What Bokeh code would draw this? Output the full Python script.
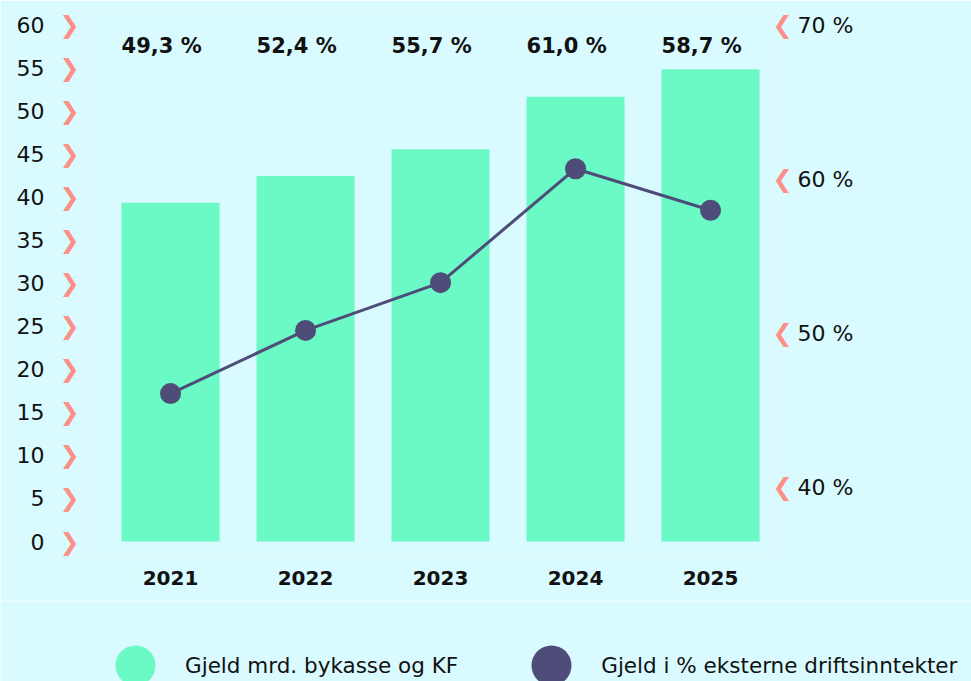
from bokeh.plotting import figure
from bokeh.layouts import column
from bokeh.models import Range1d, LinearAxis, FixedTicker, Legend, LegendItem
from bokeh.core.properties import value
from bokeh.embed import file_html
from bokeh.resources import INLINE

# ---- data ----
years = ["2021", "2022", "2023", "2024", "2025"]
debt_bn = [39.4, 42.5, 45.6, 51.7, 54.9]            # Gjeld mrd. bykasse og KF (left axis)
debt_pct_points = [46.1, 50.2, 53.3, 60.7, 58.0]    # marker positions on the right (%) axis
debt_pct_labels = ["49,3 %", "52,4 %", "55,7 %", "61,0 %", "58,7 %"]
left_ticks = [0, 5, 10, 15, 20, 25, 30, 35, 40, 45, 50, 55, 60]
right_ticks = [40, 50, 60, 70]
right_tick_labels = ["40 %", "50 %", "60 %", "70 %"]
series_names = ["Gjeld mrd. bykasse og KF", "Gjeld i % eksterne driftsinntekter"]

# ---- style ----
BG = "#d9fafe"
MINT = "#6bf9c6"
NAVY = "#4e4c78"
SALMON = "#fe8f88"
INK = "#111111"
FONT = "DejaVu Sans"
LABEL_Y = 57.6
BAR_W = 0.726

xs = list(range(len(years)))
label_xs = [x - BAR_W / 2 for x in xs]

p = figure(width=971, height=600, output_backend="svg", toolbar_location=None,
           x_range=Range1d(-0.667, 4.459), y_range=Range1d(-1.279, 61.51),
           min_border_left=80, min_border_right=199, min_border_top=12, min_border_bottom=48,
           background_fill_color=BG, border_fill_color=BG, outline_line_color=None)
p.extra_y_ranges = {"pct": Range1d(35.779, 70.844)}
p.grid.visible = False


def style_axis(ax, color, size, bold=False, standoff=8):
    ax.axis_line_color = None
    ax.major_tick_line_color = None
    ax.minor_tick_line_color = None
    ax.major_tick_out = 0
    ax.major_tick_in = 0
    ax.minor_tick_out = 0
    ax.minor_tick_in = 0
    ax.major_label_text_font = FONT
    ax.major_label_text_font_size = size
    ax.major_label_text_color = color
    ax.major_label_text_font_style = "bold" if bold else "normal"
    ax.major_label_standoff = standoff


# x axis: years
xa = p.xaxis[0]
xa.ticker = FixedTicker(ticks=xs)
xa.major_label_overrides = {i: y for i, y in enumerate(years)}
style_axis(xa, INK, "20px", bold=True, standoff=18)

# left: chevrons (inner) + numbers (outer)
ya = p.yaxis[0]
ya.ticker = FixedTicker(ticks=left_ticks)
ya.major_label_overrides = {t: "\u276F" for t in left_ticks}
style_axis(ya, SALMON, "24px", bold=True, standoff=1)

num_axis = LinearAxis(ticker=FixedTicker(ticks=left_ticks))
style_axis(num_axis, INK, "22px", standoff=12)
p.add_layout(num_axis, "left")

# right: chevrons (inner) + percent (outer)
rchev = LinearAxis(y_range_name="pct", ticker=FixedTicker(ticks=right_ticks))
rchev.major_label_overrides = {t: "\u276E" for t in right_ticks}
style_axis(rchev, SALMON, "24px", bold=True, standoff=0)
p.add_layout(rchev, "right")

pct_axis = LinearAxis(y_range_name="pct", ticker=FixedTicker(ticks=right_ticks))
pct_axis.major_label_overrides = {t: l for t, l in zip(right_ticks, right_tick_labels)}
style_axis(pct_axis, INK, "22px", standoff=2)
p.add_layout(pct_axis, "right")

# bars
p.vbar(x=xs, top=debt_bn, bottom=0, width=BAR_W, color=MINT, line_color=None)

# line + dots on the % axis
p.line(x=xs, y=debt_pct_points, y_range_name="pct", line_width=3, color=NAVY)
p.scatter(x=xs, y=debt_pct_points, y_range_name="pct", marker="circle",
          size=21, color=NAVY, line_color=None)

# percent labels at top (left-aligned with bar edges)
p.text(x=label_xs, y=[LABEL_Y] * len(xs), text=debt_pct_labels, text_align="left",
       text_baseline="middle", text_font=value(FONT), text_font_style="bold",
       text_font_size="21px", text_color=INK)

# ---- legend strip (separate figure so the legend is not clipped) ----
lg = figure(width=971, height=81, output_backend="svg", toolbar_location=None,
            x_range=Range1d(0, 1), y_range=Range1d(0, 1),
            x_axis_location=None, y_axis_location=None, frame_align=False,
            min_border_left=0, min_border_right=0, min_border_top=0, min_border_bottom=0,
            background_fill_color=BG, border_fill_color=BG, outline_line_color=None)
lg.grid.visible = False
sw_bar = lg.scatter(x=[0.5], y=[0.5], marker="circle", size=20, color=MINT,
                    line_color=None, visible=False)
sw_pct = lg.scatter(x=[0.5], y=[0.5], marker="circle", size=20, color=NAVY,
                    line_color=None, visible=False)
legend = Legend(items=[LegendItem(label=series_names[0], renderers=[sw_bar]),
                       LegendItem(label=series_names[1], renderers=[sw_pct])],
                orientation="horizontal", location=(85, -34),
                glyph_width=100, glyph_height=100, label_standoff=0, spacing=43,
                padding=0, margin=0, border_line_alpha=0, background_fill_alpha=0,
                label_text_font=FONT, label_text_font_size="21.5px", label_text_color=INK)
lg.add_layout(legend, "center")

layout = column(p, lg, spacing=0)
open("out.html", "w").write(file_html(layout, INLINE))
